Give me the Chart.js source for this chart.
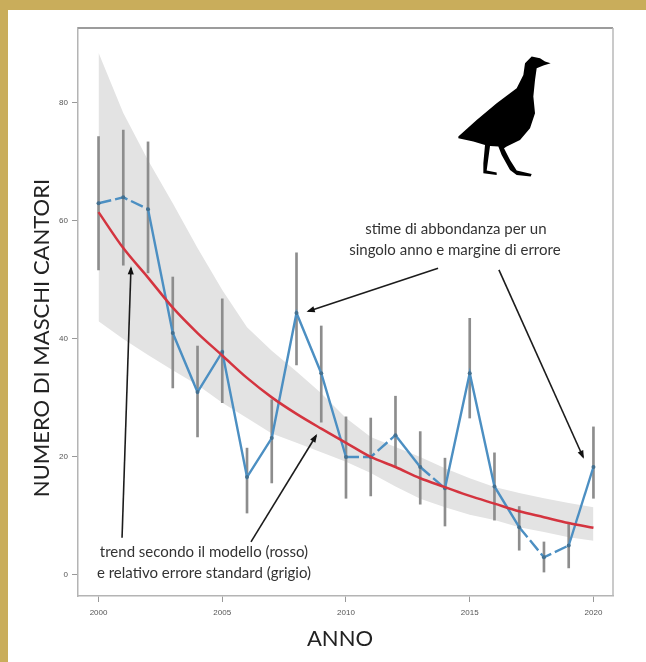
<!DOCTYPE html>
<html>
<head>
<meta charset="utf-8">
<title>Numero di maschi cantori</title>
<script src="https://cdn.jsdelivr.net/npm/chart.js@4/dist/chart.umd.min.js"></script>
<style>
    html, body { margin: 0; padding: 0; background: #fff; }
    #wrap { position: relative; width: 646px; height: 662px; overflow: hidden; }
    #topBand { position: absolute; left: 0; top: 0; width: 646px; height: 10px; background: #c9ad5b; }
    #leftBand { position: absolute; left: 0; top: 0; width: 8px; height: 662px; background: #c9ad5b; }
    #chart { position: absolute; left: 0; top: 0; filter: blur(0.45px); }
</style>
</head>
<body>
<div id="wrap">
    <canvas id="chart" width="646" height="662"></canvas>
    <div id="topBand"></div>
    <div id="leftBand"></div>
</div>
<script>
const years = [2000, 2001, 2002, 2003, 2004, 2005, 2006, 2007, 2008, 2009, 2010, 2011, 2012, 2013, 2014, 2015, 2016, 2017, 2018, 2019, 2020];
const estimate = [63, 64, 62, 41, 31, 37.8, 16.6, 23.2, 44.4, 34.2, 20, 20, 23.7, 18.3, 14.7, 34.2, 15, 8.1, 3, 5, 18.3];
const errorHigh = [74.3, 75.4, 73.4, 50.5, 38.8, 46.8, 21.5, 29.7, 54.6, 42.2, 26.8, 26.6, 30.3, 24.3, 19.8, 43.5, 20.7, 11.6, 5.6, 8.8, 25.1];
const errorLow = [51.7, 52.5, 51.2, 31.7, 23.4, 29.2, 10.5, 15.6, 35.6, 25.9, 13, 13.4, 18.3, 12, 8.3, 26.6, 9.3, 4.2, 0.5, 1.2, 13];
const trend = [61.5, 55.4, 50.4, 45.3, 41, 37.2, 33.4, 30.1, 27.3, 24.8, 22.4, 20, 18.3, 16.4, 14.9, 13.4, 12.1, 10.8, 9.8, 8.8, 8];
const bandHigh = [88.5, 78.3, 70.3, 63, 55.4, 48.3, 42, 38, 34.5, 30.8, 26.6, 23.4, 21.7, 20, 18.1, 16.4, 14.9, 13.9, 13, 12.2, 11.5];
const bandLow = [43, 40, 37.3, 34.7, 32.2, 29.2, 26.6, 24, 22.4, 20.8, 19.2, 17.3, 15, 12.9, 11.5, 10.2, 9.3, 8.1, 7.3, 6.4, 5.8];
const dashedFrom = [2000, 2001, 2010, 2011, 2013, 2017, 2018];

const xTicks = [2000, 2005, 2010, 2015, 2020];
const yTicks = [0, 20, 40, 60, 80];
const xTitle = "ANNO";
const yTitle = "NUMERO DI MASCHI CANTORI";

// notes and arrows are placed in year / value units
const notes = [
    { text: "stime di abbondanza per un", x: 2014.44, y: 58.6 },
    { text: "singolo anno e margine di errore", x: 2014.4, y: 55.1 },
    { text: "trend secondo il modello (rosso)", x: 2004.26, y: 3.9 },
    { text: "e relativo errore standard (grigio)", x: 2004.26, y: 0.34 }
];
const arrows = [
    { x0: 2000.95, y0: 6.3, x1: 2001.31, y1: 52 },
    { x0: 2013.72, y0: 52, x1: 2008.48, y1: 44.7 },
    { x0: 2016.18, y0: 51.7, x1: 2019.58, y1: 20 },
    { x0: 2006.16, y0: 5.6, x1: 2008.79, y1: 23.6 }
];

// bird silhouette, traced at 3x
const birdOutline = [[415, 410], [470, 360], [530, 310], [590, 265], [610, 225], [615, 190], [635, 170], [660, 175], [675, 185], [692, 190], [670, 197], [650, 205], [645, 240], [640, 290], [645, 340], [630, 385], [600, 420], [560, 440], [552, 445], [570, 480], [590, 512], [635, 522], [632, 530], [590, 525], [570, 510], [545, 465], [535, 440], [510, 438], [500, 512], [530, 518], [530, 525], [490, 520], [490, 490], [495, 435], [460, 425], [415, 415]];
const birdAnchor = { x: 2008.95, y: 97.46 };

function series(values) {
    return years.map((year, i) => ({ x: year, y: values[i] }));
}

function drawArrow(ctx, x0, y0, x1, y1) {
    const angle = Math.atan2(y1 - y0, x1 - x0);
    ctx.beginPath();
    ctx.moveTo(x0, y0);
    ctx.lineTo(x1, y1);
    ctx.strokeStyle = "#1c1c1c";
    ctx.lineWidth = 1.6;
    ctx.stroke();
    ctx.beginPath();
    ctx.moveTo(x1 + Math.cos(angle) * 2, y1 + Math.sin(angle) * 2);
    ctx.lineTo(x1 - Math.cos(angle - 0.45) * 7, y1 - Math.sin(angle - 0.45) * 7);
    ctx.lineTo(x1 - Math.cos(angle + 0.45) * 7, y1 - Math.sin(angle + 0.45) * 7);
    ctx.closePath();
    ctx.fillStyle = "#111";
    ctx.fill();
}

const decorations = {
    id: "decorations",
    afterDatasetsDraw(chart) {
        const ctx = chart.ctx;
        const sx = chart.scales.x;
        const sy = chart.scales.y;
        const area = chart.chartArea;
        ctx.save();

        // top and right side of the frame
        ctx.beginPath();
        ctx.moveTo(area.left, area.top);
        ctx.lineTo(area.right, area.top);
        ctx.strokeStyle = "#9c9c9c";
        ctx.lineWidth = 2;
        ctx.stroke();
        ctx.beginPath();
        ctx.moveTo(area.right, area.top);
        ctx.lineTo(area.right, area.bottom);
        ctx.strokeStyle = "#b8b8b8";
        ctx.lineWidth = 1.5;
        ctx.stroke();

        // bird
        const bx = sx.getPixelForValue(birdAnchor.x);
        const by = sy.getPixelForValue(birdAnchor.y);
        ctx.beginPath();
        birdOutline.forEach((p, i) => {
            if (i == 0) ctx.moveTo(bx + p[0] / 3, by + p[1] / 3);
            else ctx.lineTo(bx + p[0] / 3, by + p[1] / 3);
        });
        ctx.closePath();
        ctx.fillStyle = "#000";
        ctx.fill();

        // arrows
        for (const a of arrows) {
            drawArrow(ctx, sx.getPixelForValue(a.x0), sy.getPixelForValue(a.y0),
                      sx.getPixelForValue(a.x1), sy.getPixelForValue(a.y1));
        }

        // notes
        ctx.font = "15px Lato";
        ctx.fillStyle = "#333";
        ctx.textAlign = "center";
        ctx.textBaseline = "middle";
        for (const n of notes) {
            ctx.fillText(n.text, sx.getPixelForValue(n.x), sy.getPixelForValue(n.y));
        }

        // axis titles sit off centre in the reference, so they are drawn here
        ctx.fillStyle = "#222";
        ctx.font = "22px Lato";
        ctx.fillText(xTitle, 340, 639);
        ctx.translate(42, 338);
        ctx.rotate(-Math.PI / 2);
        ctx.fillText(yTitle, 0, 0);
        ctx.restore();
    }
};

new Chart(document.getElementById("chart"), {
    data: {
        datasets: [
            {
                type: "line",
                label: "errore standard",
                data: series(bandHigh),
                borderWidth: 0,
                pointRadius: 0,
                backgroundColor: "#e3e3e3",
                fill: "+1",
                order: 5
            },
            {
                type: "line",
                label: "errore standard (basso)",
                data: series(bandLow),
                borderWidth: 0,
                pointRadius: 0,
                fill: false,
                order: 5
            },
            {
                type: "bar",
                label: "margine di errore",
                data: years.map((year, i) => ({ x: year, y: [errorLow[i], errorHigh[i]] })),
                backgroundColor: "#8d8d8d",
                barThickness: 2,
                order: 4
            },
            {
                type: "line",
                label: "stime di abbondanza",
                data: series(estimate),
                borderColor: "#4c8fc2",
                borderWidth: 2.4,
                pointRadius: 2,
                pointBackgroundColor: "#44708f",
                pointBorderWidth: 0,
                fill: false,
                segment: {
                    borderDash: ctx => dashedFrom.includes(ctx.p0.parsed.x) ? [13, 4] : undefined
                },
                order: 3
            },
            {
                type: "line",
                label: "trend",
                data: series(trend),
                borderColor: "#d4343f",
                borderWidth: 2.5,
                pointRadius: 0,
                fill: false,
                cubicInterpolationMode: "monotone",
                order: 2
            }
        ]
    },
    options: {
        responsive: false,
        animation: false,
        layout: { padding: { left: 0, top: 28, right: 33, bottom: 0 } },
        plugins: {
            legend: { display: false },
            tooltip: { enabled: false }
        },
        scales: {
            x: {
                type: "linear",
                offset: false,
                min: 1999.17,
                max: 2020.79,
                afterBuildTicks: scale => { scale.ticks = xTicks.map(v => ({ value: v })); },
                afterFit: scale => { scale.height = 66; },
                ticks: {
                    callback: v => String(v),
                    font: { family: "Liberation Sans", size: 8 },
                    color: "#555",
                    padding: 6,
                    maxRotation: 0
                },
                grid: { offset: false, drawOnChartArea: false, tickLength: 6, color: "#999" },
                border: { color: "#b4b4b4", width: 1.5 }
            },
            y: {
                type: "linear",
                min: -3.56,
                max: 92.7,
                afterBuildTicks: scale => { scale.ticks = yTicks.map(v => ({ value: v })); },
                afterFit: scale => { scale.width = 78; },
                ticks: {
                    callback: v => String(v),
                    font: { family: "Liberation Sans", size: 8 },
                    color: "#555",
                    padding: 4
                },
                grid: { drawOnChartArea: false, tickLength: 6, color: "#999" },
                border: { color: "#b4b4b4", width: 1.5 }
            }
        }
    },
    plugins: [decorations]
});
</script>
</body>
</html>
